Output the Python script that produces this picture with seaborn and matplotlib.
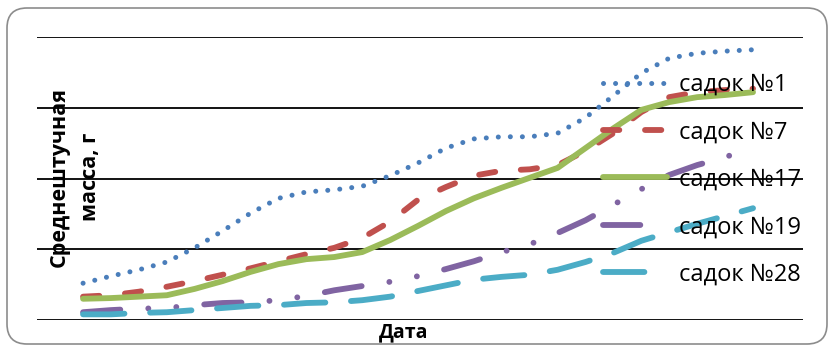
import numpy as np
import pandas as pd
import matplotlib
matplotlib.use("Agg")
import matplotlib.pyplot as plt
import seaborn as sns
from matplotlib.patches import FancyBboxPatch
from matplotlib.transforms import IdentityTransform

sns.set_theme(style="white")
plt.rcParams['font.family'] = ['Open Sans', 'DejaVu Sans']
plt.rcParams['text.color'] = 'black'

# --- DATA (grams; one point per sampling date) ---
dates = list(range(25))
cage_1 = [5.2, 6.2, 7.1, 8.2, 10.2, 12.6, 15.1, 17.2, 18.1, 18.4, 18.9, 20.4, 22.2,
          24.3, 25.6, 25.9, 25.9, 26.4, 28.6, 31.7, 34.9, 37.0, 37.7, 38.0, 38.2]
cage_7 = [3.3, 3.5, 4.0, 4.7, 5.5, 6.4, 7.3, 8.3, 9.3, 10.2, 11.6, 13.9, 17.0,
          18.8, 20.4, 21.1, 21.3, 21.9, 23.9, 26.4, 29.4, 31.5, 32.2, 32.5, 32.7]
cage_17 = [3.0, 3.1, 3.3, 3.5, 4.4, 5.5, 6.8, 7.9, 8.6, 8.9, 9.6, 11.3, 13.3,
           15.4, 17.2, 18.7, 20.1, 21.5, 24.3, 27.1, 29.7, 30.8, 31.5, 31.8, 32.2]
cage_19 = [1.1, 1.4, 1.6, 1.7, 2.1, 2.4, 2.5, 2.8, 3.4, 4.2, 4.8, 5.4, 6.2,
           7.2, 8.3, 9.6, 10.7, 12.3, 14.1, 16.3, 18.5, 20.5, 21.9, 23.0, 24.5]
cage_28 = [0.8, 0.8, 1.0, 1.1, 1.4, 1.7, 2.0, 2.1, 2.4, 2.5, 2.8, 3.3, 4.1,
           4.9, 5.7, 6.1, 6.4, 7.1, 8.2, 9.5, 11.2, 12.4, 13.6, 14.7, 15.8]
labels = ["садок №1", "садок №7", "садок №17", "садок №19", "садок №28"]

series = [cage_1, cage_7, cage_17, cage_19, cage_28]
colors = ["#4A7EBB", "#C0504D", "#9BBB59", "#8064A2", "#4BACC6"]
styles = [(0, (0.01, 2.4)), (0, (2.8, 4.4)), "-", (0, (6.4, 4.8, 0.01, 4.8, 0.01, 4.8)),
          (0, (7.1, 4.4))]
widths = [3.6, 4.2, 4.2, 4.2, 4.2]

fig = plt.figure(figsize=(8.29, 3.45), dpi=100)
ax = fig.add_axes([37 / 829, 25 / 345, 766 / 829, 283 / 345])

# gridlines first so the series sit on top
for yv in [0, 10, 20, 30, 40]:
    ax.axhline(yv, color="black", lw=1.3, zorder=1)

for vals, lab, c, ls, w in zip(series, labels, colors, styles, widths):
    sns.lineplot(x=dates, y=vals, ax=ax, color=c, linestyle=ls, lw=w, label=lab,
                 dash_capstyle="round", solid_capstyle="round", zorder=3)

ax.set_xlim(-1.65, 25.79)
ax.set_ylim(0, 40)
ax.set_xticks([])
ax.set_yticks([])
for s in ax.spines.values():
    s.set_visible(False)
ax.set_xlabel("")
ax.set_ylabel("")

fig.text(75 / 829, 1 - 177 / 345, "Среднештучная\nмасса, г", rotation=90,
         ha="center", va="center", fontsize=15.5, fontweight="bold", linespacing=1.65)
fig.text(404 / 829, 1 - 332 / 345, "Дата", ha="center", va="center",
         fontsize=14, fontweight="bold")

leg = ax.legend(loc="upper left", bbox_to_anchor=(603 / 829, 1 - 73 / 345),
                bbox_transform=fig.transFigure, frameon=False, fontsize=17,
                handlelength=2.72, handletextpad=0.5, labelspacing=0.99,
                borderaxespad=0, borderpad=0)
leg.set_zorder(5)
for t in leg.get_texts():
    t.set_color("black")

border = FancyBboxPatch((7, 1), 820, 336, boxstyle="round,pad=0,rounding_size=20",
                        transform=IdentityTransform(), facecolor="none",
                        edgecolor="#8c8c8c", lw=1.2)
fig.patches.append(border)

fig.savefig("out.png", dpi=100)
